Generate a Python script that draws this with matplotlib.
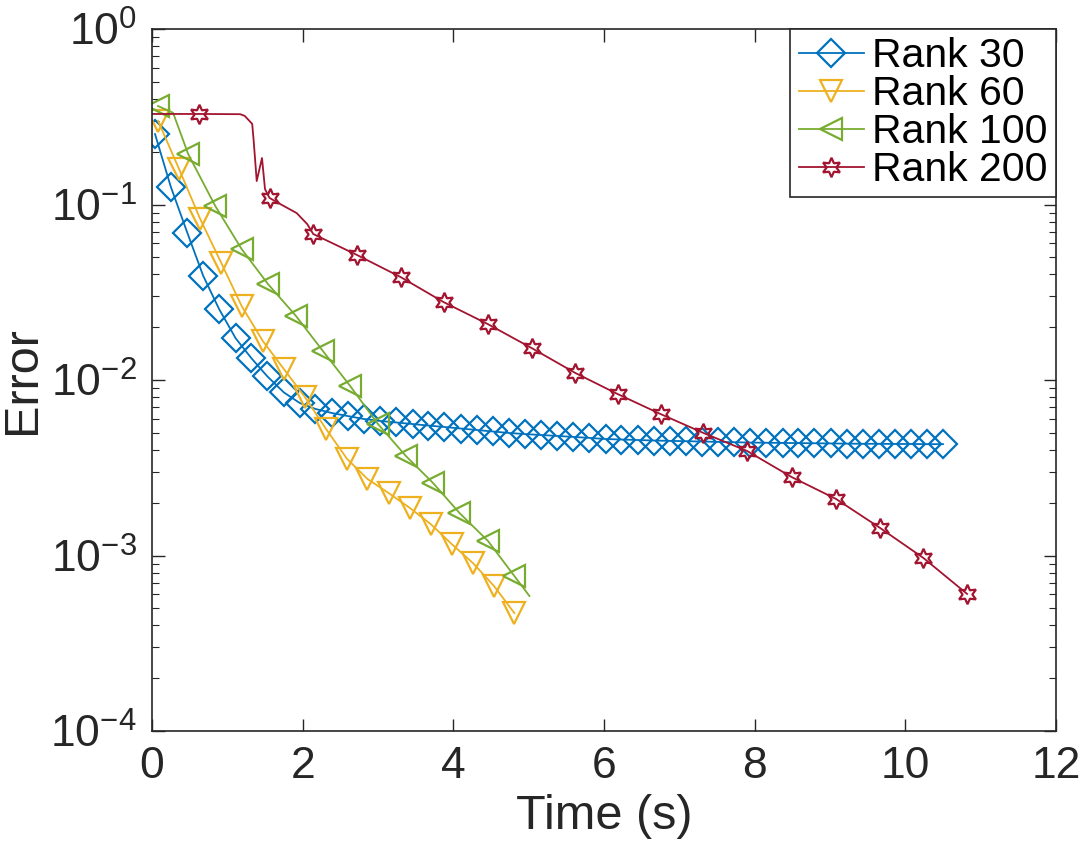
import numpy as np
import matplotlib
matplotlib.use('Agg')
import matplotlib.pyplot as plt

plt.rcParams['font.family'] = ['Liberation Sans', 'DejaVu Sans']
plt.rcParams['mathtext.fontset'] = 'custom'
plt.rcParams['mathtext.rm'] = 'Liberation Sans'
plt.rcParams['mathtext.it'] = 'Liberation Sans'

# Rank 30
t30 = [0.04, 0.25, 0.47, 0.68, 0.89, 1.11, 1.32, 1.53, 1.75, 1.96,
       2.17, 2.39, 2.60, 2.81, 3.03, 3.24, 3.46, 3.67, 3.88, 4.10,
       4.31, 4.52, 4.74, 4.95, 5.16, 5.38, 5.59, 5.80, 6.02, 6.23,
       6.45, 6.66, 6.87, 7.09, 7.30, 7.51, 7.73, 7.94, 8.15, 8.37,
       8.58, 8.79, 9.01, 9.22, 9.44, 9.65, 9.86, 10.08, 10.29, 10.50]
e30 = [0.252, 0.126, 0.0688, 0.0392, 0.0254, 0.0173, 0.0133, 0.0105, 0.0085, 0.0074,
       0.00684, 0.00648, 0.00623, 0.00600, 0.00584, 0.00573, 0.00561, 0.00550, 0.00540, 0.00529,
       0.00519, 0.00509, 0.00499, 0.00492, 0.00486, 0.00480, 0.00474, 0.00468, 0.00461, 0.00458,
       0.00455, 0.00452, 0.00450, 0.00448, 0.00446, 0.00444, 0.00442, 0.00440, 0.00439, 0.00438,
       0.00437, 0.00436, 0.00435, 0.00434, 0.00433, 0.00433, 0.00432, 0.00432, 0.00431, 0.00431]

# Rank 60
t60 = [0.08, 0.36, 0.64, 0.92, 1.19, 1.47, 1.75, 2.03, 2.31, 2.59,
       2.86, 3.14, 3.42, 3.70, 3.98, 4.26, 4.54, 4.81]
e60 = [0.300, 0.159, 0.0827, 0.0464, 0.0264, 0.0167, 0.01155, 0.0080, 0.00526, 0.00355,
       0.00273, 0.00227, 0.00187, 0.00151, 0.00116, 0.000906, 0.000670, 0.000470]

# Rank 100 (last point has no marker)
t100 = [0.08, 0.28, 0.48, 0.84, 1.19, 1.54, 1.91, 2.27, 2.63, 3.00,
        3.37, 3.73, 4.08, 4.46, 4.81, 5.01]
e100 = [0.364, 0.333, 0.194, 0.098, 0.0557, 0.0352, 0.0232, 0.0146, 0.00925, 0.00561,
        0.00369, 0.00259, 0.00175, 0.00121, 0.000764, 0.000588]
m100 = [0, 2, 3, 4, 5, 6, 7, 8, 9, 10, 11, 12, 13, 14]

# Rank 200 (dense line, markers on a subset)
t200 = [0.00, 0.62, 1.17, 1.23, 1.33, 1.35, 1.37, 1.39, 1.46, 1.50,
        1.56, 1.70, 1.92, 2.06, 2.14, 2.72, 3.30, 3.87, 4.46, 5.04,
        5.62, 6.18, 6.75, 7.32, 7.90, 8.49, 9.08, 9.66, 10.24, 10.82]
e200 = [0.328, 0.328, 0.327, 0.320, 0.288, 0.230, 0.177, 0.136, 0.184, 0.1225,
        0.109, 0.1007, 0.0894, 0.0774, 0.0679, 0.0516, 0.0386, 0.0278, 0.0208, 0.0152,
        0.01096, 0.00832, 0.00640, 0.00499, 0.00394, 0.00280, 0.00210, 0.00144, 0.000968, 0.000604]
m200 = [1, 10, 14, 15, 16, 17, 18, 19, 20, 21, 22, 23, 24, 25, 26, 27, 28, 29]

fig = plt.figure(figsize=(10.84, 8.44), dpi=100)
ax = fig.add_axes([152/1084, 113/844, 904/1084, 702/844])

kw = dict(lw=1.3, mew=1.6, mfc='none')
ax.plot(t30, e30, color='#0072BD', marker='D', ms=14, label='Rank 30', **kw)
ax.plot(t60, e60, color='#EDB120', marker='v', ms=16, label='Rank 60', **kw)
ax.plot(t100, e100, color='#77AC30', marker='<', ms=16, markevery=m100, label='Rank 100', **kw)
ax.plot(t200, e200, color='#A2142F', marker=(6, 1, 0), ms=14, markevery=m200, label='Rank 200', **kw)

ax.set_yscale('log')
ax.set_xlim(0, 12)
ax.set_ylim(1e-4, 1)
ax.set_xticks(range(0, 13, 2))
ax.set_yticks([1e-4, 1e-3, 1e-2, 1e-1, 1])

dark = '#262626'
for s in ax.spines.values():
    s.set_color(dark)
    s.set_linewidth(1.2)
ax.tick_params(which='both', direction='in', top=True, right=True, colors=dark, labelcolor=dark)
ax.tick_params(which='major', length=9, width=1.0, labelsize=32, pad=11)
ax.tick_params(which='minor', length=5, width=0.8)
ax.tick_params(axis='x', which='minor', top=False, bottom=False)

ax.set_xlabel('Time (s)', fontsize=35, color=dark, labelpad=5)
ax.set_ylabel('Error', fontsize=35, color=dark, labelpad=4)

leg = ax.legend(loc='upper right', fontsize=29.5, fancybox=False, borderaxespad=0,
                handlelength=1.6, handletextpad=0.2, labelspacing=0.0,
                borderpad=0.2, framealpha=1)
leg.get_frame().set_edgecolor(dark)
leg.get_frame().set_linewidth(1.2)

plt.savefig('out.png', dpi=100)
